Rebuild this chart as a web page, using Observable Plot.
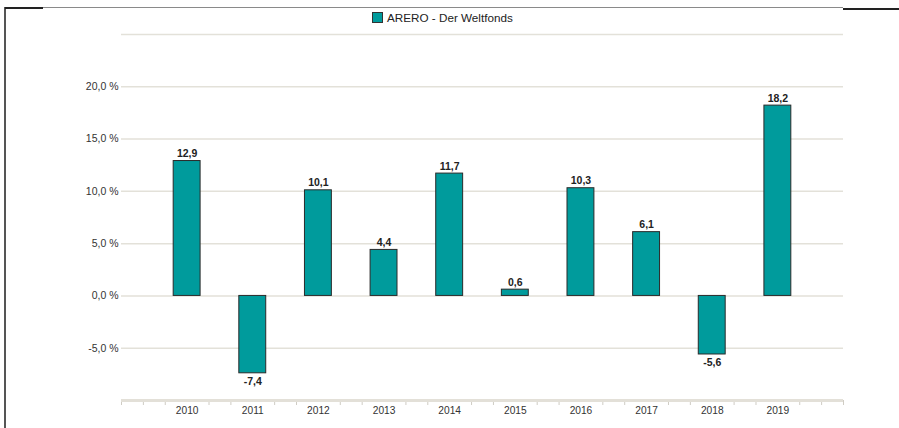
<!DOCTYPE html>
<html>
<head>
<meta charset="utf-8">
<script src="https://cdn.jsdelivr.net/npm/d3@7"></script>
<script src="https://cdn.jsdelivr.net/npm/@observablehq/plot@0.6"></script>
<style>
  html, body { margin: 0; padding: 0; background: #fff; }
  #wrap { position: relative; width: 899px; height: 428px; overflow: hidden; font-family: "Liberation Sans", Arial, sans-serif; }
  #chart { position: absolute; left: 0; top: 0; }
  .ln { position: absolute; }
  #legend { position: absolute; top: 11px; left: 372px; display: flex; align-items: center; font-size: 11.7px; color: #222; white-space: nowrap; }
  #legend .sw { width: 9px; height: 9px; background: #009b9c; border: 1px solid #333; margin-right: 4px; }
</style>
</head>
<body>
<div id="wrap">
  <div id="chart"></div>
  <div class="ln" style="left:4px;top:7px;width:2px;height:421px;background:#555;"></div>
  <div class="ln" style="left:5px;top:7px;width:838px;height:1px;background:#8a8a8a;"></div>
  <div class="ln" style="left:5px;top:7px;width:38px;height:2px;background:#222;"></div>
  <div class="ln" style="left:843px;top:8px;width:56px;height:2px;background:#222;"></div>
  <div id="legend"><div class="sw"></div><span id="legendText"></span></div>
</div>
<script>
const seriesName = "ARERO - Der Weltfonds";
const years = [2010, 2011, 2012, 2013, 2014, 2015, 2016, 2017, 2018, 2019];
const values = [12.9, -7.4, 10.1, 4.4, 11.7, 0.6, 10.3, 6.1, -5.6, 18.2];
const yTickValues = [-5, 0, 5, 10, 15, 20];
const gridValues = [-5, 0, 5, 10, 15, 20, 25];
const xDomain = [2009, 2020];
const yDomain = [-10, 25];
const minorTicks = d3.range(0, 34).filter(k => k % 3 !== 0 || k === 0 || k === 33).map(k => xDomain[0] + k / 3);

document.getElementById("legendText").textContent = seriesName;

const data = years.map((y, i) => ({year: y, value: values[i]}));
const fmt = v => v.toFixed(1).replace(".", ",");
const halfW = 0.205;

const plot = Plot.plot({
  width: 899,
  height: 428,
  marginLeft: 121,
  marginRight: 56,
  marginTop: 34,
  marginBottom: 28,
  style: {fontFamily: "'Liberation Sans', Arial, sans-serif", background: "transparent", overflow: "visible"},
  x: {type: "linear", domain: xDomain},
  y: {domain: yDomain},
  marks: [
    Plot.ruleY(gridValues, {stroke: "#e3e1d9", strokeWidth: 1.5}),
    Plot.axisY({ticks: yTickValues, tickSize: 0, tickPadding: 3, tickFormat: d => fmt(d) + " %", fontSize: 10.5, fill: "#333", label: null}),
    Plot.axisX({ticks: minorTicks, tickSize: 5, tickFormat: () => "", stroke: "#cfccc4", label: null}),
    Plot.axisX({ticks: years, tickSize: 0, tickPadding: 6, tickFormat: d => String(d), fontSize: 10.2, fill: "#333", label: null}),
    Plot.ruleY([yDomain[0]], {stroke: "#e3e0d8", strokeWidth: 3}),
    Plot.rectY(data, {x1: d => d.year - halfW, x2: d => d.year + halfW, y1: 0, y2: "value", fill: "#009b9c", stroke: "#2a2a2a", strokeWidth: 1}),
    Plot.text(data, {x: "year", y: "value", text: d => fmt(d.value), dy: d => 0, fontSize: 10.5, fontWeight: "bold", fill: "#222",
      filter: d => d.value >= 0, lineAnchor: "bottom", dy: -4}),
    Plot.text(data, {x: "year", y: "value", text: d => fmt(d.value), fontSize: 10.5, fontWeight: "bold", fill: "#222",
      filter: d => d.value < 0, lineAnchor: "top", dy: 4})
  ]
});
document.getElementById("chart").appendChild(plot);
</script>
</body>
</html>
